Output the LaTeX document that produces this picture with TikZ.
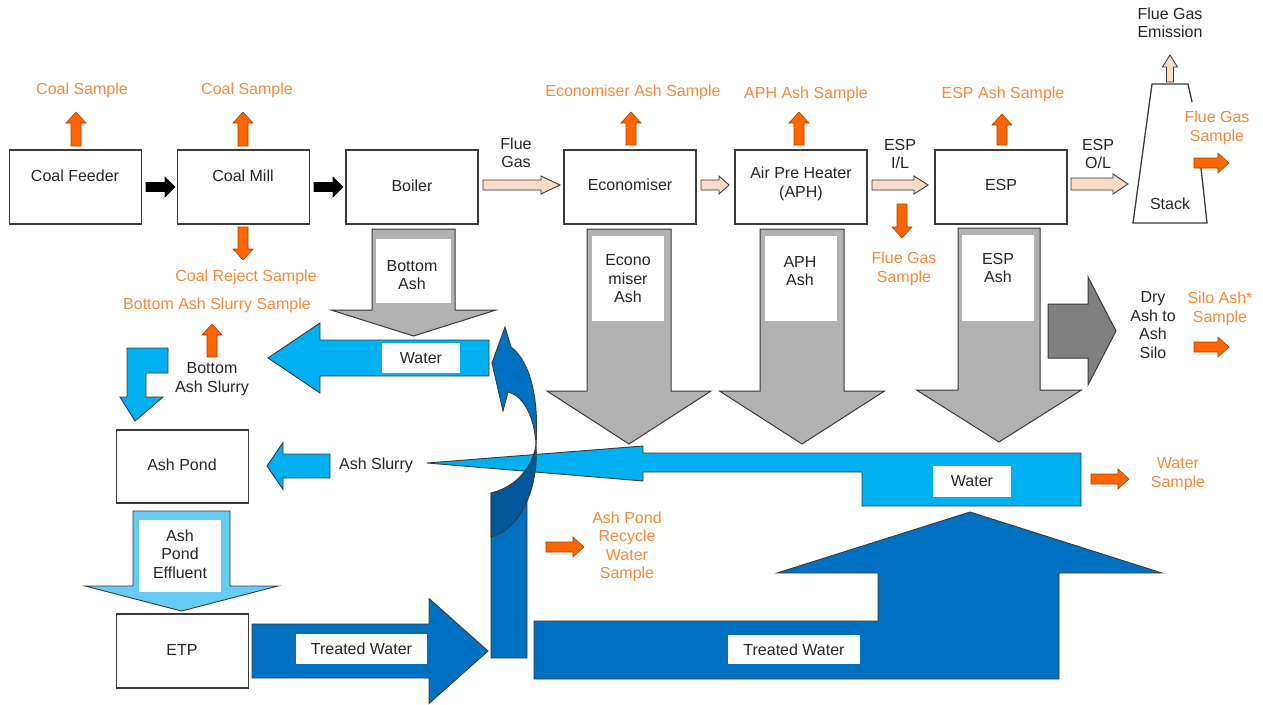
\documentclass[tikz,border=0pt]{standalone}
\usepackage{fontspec}
\setmainfont{Liberation Sans}
\definecolor{orangeF}{HTML}{FF6600}
\definecolor{orangeE}{HTML}{A84300}
\definecolor{orangeT}{HTML}{F7893B}
\definecolor{beige}{HTML}{F9DBC6}
\definecolor{ashgray}{HTML}{B2B2B2}
\definecolor{drygray}{HTML}{808080}
\definecolor{lblue}{HTML}{00B0F0}
\definecolor{dblue}{HTML}{0070C0}
\definecolor{ddblue}{HTML}{00589A}
\definecolor{eblue}{HTML}{66CCF3}
\definecolor{txt}{HTML}{262626}
\definecolor{edge}{HTML}{3A3A3A}
\newcommand\diagfont{\fontsize{16}{18.5}\selectfont}
% block arrows: style, tail, tip, centre, shaft half, head half, head length
\newcommand\blockR[7]{\draw[#1] (#2,{#4-#5}) -- ({#3-#7},{#4-#5}) -- ({#3-#7},{#4-#6}) -- (#3,#4) -- ({#3-#7},{#4+#6}) -- ({#3-#7},{#4+#5}) -- (#2,{#4+#5}) -- cycle;}
\newcommand\blockL[7]{\draw[#1] (#2,{#4-#5}) -- ({#3+#7},{#4-#5}) -- ({#3+#7},{#4-#6}) -- (#3,#4) -- ({#3+#7},{#4+#6}) -- ({#3+#7},{#4+#5}) -- (#2,{#4+#5}) -- cycle;}
\newcommand\blockU[7]{\draw[#1] ({#4-#5},#2) -- ({#4-#5},{#3+#7}) -- ({#4-#6},{#3+#7}) -- (#4,#3) -- ({#4+#6},{#3+#7}) -- ({#4+#5},{#3+#7}) -- ({#4+#5},#2) -- cycle;}
\newcommand\blockD[7]{\draw[#1] ({#4-#5},#2) -- ({#4-#5},{#3-#7}) -- ({#4-#6},{#3-#7}) -- (#4,#3) -- ({#4+#6},{#3-#7}) -- ({#4+#5},{#3-#7}) -- ({#4+#5},#2) -- cycle;}
\begin{document}
\begin{tikzpicture}[x=1pt,y=-1pt,
  procbox/.style={draw=edge, line width=1.3pt, fill=white, inner sep=0pt, minimum width=132pt, minimum height=74pt},
  lbl/.style={text=txt, font=\diagfont, align=center, inner sep=0pt},
  olbl/.style={text=orangeT, font=\diagfont, align=center, inner sep=0pt},
  wbox/.style={fill=white, draw=none, inner sep=0pt, text=txt, font=\diagfont},
  orarrow/.style={fill=orangeF, draw=orangeE, line width=0.6pt},
  blkarrow/.style={fill=black, draw=black, line width=0.6pt},
  fluearrow/.style={fill=beige, draw=edge, line width=0.9pt},
  asharrow/.style={fill=ashgray, draw=edge, line width=1pt},
  dryarrow/.style={fill=drygray, draw=edge, line width=1pt},
  lbarrow/.style={fill=lblue, draw=edge, line width=0.9pt},
  dbarrow/.style={fill=dblue, draw=edge, line width=0.9pt},
  ebarrow/.style={fill=eblue, draw=edge, line width=0.9pt},
  stackline/.style={draw=edge, line width=1.3pt}
]
\useasboundingbox (0,0) rectangle (1263,704);
\fill[white] (0,0) rectangle (1263,704);

% ---------- process boxes ----------
\node[procbox] (feeder) at (75.5,187) {};
\node[procbox] (mill) at (243.5,187) {};
\node[procbox] (boiler) at (412,187) {};
\node[procbox] (econ) at (630,187) {};
\node[procbox] (aph) at (801,187) {};
\node[procbox] (esp) at (1001,187) {};
\node[procbox, minimum height=73pt] (pond) at (182.5,466.5) {};
\node[procbox] (etp) at (182.5,651) {};
\node[lbl] (tfeeder) at (75,176) {Coal Feeder};
\node[lbl] (tmill) at (243,176) {Coal Mill};
\node[lbl] (tboiler) at (412,186) {Boiler};
\node[lbl] (tecon) at (630,185) {Economiser};
\node[lbl] (taph) at (801,184) {Air Pre Heater\\(APH)};
\node[lbl] (tesp) at (1001,185) {ESP};
\node[lbl] (tpond) at (182,465) {Ash Pond};
\node[lbl] (tetp) at (182,650) {ETP};

% ---------- stack ----------
\draw[stackline] (1192,102) -- (1188,84) -- (1152,84) -- (1133,223) -- (1207,223) -- (1201,168);
\node[lbl] (tstack) at (1170,204) {Stack};

% ---------- coal arrows ----------
\blockR{blkarrow}{146}{175}{187}{4.5}{10}{10}
\blockR{blkarrow}{314}{343}{187}{4.5}{10}{10}

% ---------- flue gas arrows ----------
\blockR{fluearrow}{483}{560}{185}{5}{9}{19}
\blockR{fluearrow}{701}{729}{185}{5}{9}{10}
\blockR{fluearrow}{872}{928}{185}{5}{9}{14}
\blockR{fluearrow}{1071}{1128}{184}{6}{10}{15}
\blockU{fluearrow}{82}{55}{1170}{3.5}{7.5}{12}
\node[lbl] (tflue) at (516,153) {Flue\\Gas};
\node[lbl] (tespil) at (900,154) {ESP\\I/L};
\node[lbl] (tespol) at (1098,154) {ESP\\O/L};
\node[lbl] (temis) at (1170,23) {Flue Gas\\Emission};

% ---------- sample arrows ----------
\blockU{orarrow}{146}{112}{76}{5}{10}{11}
\blockU{orarrow}{146}{112}{243}{5}{10}{11}
\blockU{orarrow}{145}{112}{631}{5}{10}{11}
\blockU{orarrow}{145}{112}{799}{5}{10}{11}
\blockU{orarrow}{145}{114}{1002}{5}{10}{11}
\blockU{orarrow}{357}{324}{212}{5}{10}{11}
\blockD{orarrow}{227}{260}{243}{5}{10}{11}
\blockD{orarrow}{204}{238}{902}{5}{10}{11}
\blockR{orarrow}{1194}{1229}{163}{5}{10}{11}
\blockR{orarrow}{1194}{1229}{347}{5}{10}{11}
\blockR{orarrow}{1091}{1129}{479}{5}{10}{11}
\blockR{orarrow}{546}{584}{547}{5}{10}{11}

\node[olbl] (s1) at (82,90) {Coal Sample};
\node[olbl] (s2) at (247,90) {Coal Sample};
\node[olbl] (s3) at (633,92) {Economiser Ash Sample};
\node[olbl] (s4) at (806,94) {APH Ash Sample};
\node[olbl] (s5) at (1003,94) {ESP Ash Sample};
\node[olbl] (s6) at (246,277) {Coal Reject Sample};
\node[olbl] (s7) at (217,305) {Bottom Ash Slurry Sample};
\node[olbl] (s8) at (904,269) {Flue Gas\\Sample};
\node[olbl] (s9) at (1217,128) {Flue Gas\\Sample};
\node[olbl] (s10) at (1220,309) {Silo Ash*\\Sample};
\node[olbl] (s11) at (1178,474) {Water\\Sample};
\node[olbl] (s12) at (627,547) {Ash Pond\\Recycle\\Water\\Sample};

% ---------- long ash slurry arrow ----------
\draw[lbarrow] (1081,453) -- (1081,506) -- (862,506) -- (862,472) -- (643,472) -- (643,481) -- (427,463) -- (643,446) -- (643,453) -- cycle;
\node[wbox, minimum width=78pt, minimum height=31pt] (water2) at (972,481.5) {Water};

% ---------- ash arrows ----------
\blockD{asharrow}{229}{336}{413.5}{41.5}{82.5}{26}
\fill[white] (376,239) rectangle (451,303);
\node[lbl] (tbash) at (412,275) {Bottom\\Ash};

\blockD{asharrow}{229}{444}{629}{42}{82}{53}
\fill[white] (592,236) rectangle (664,321);
\node[lbl] (teash) at (628,279) {Econo\\miser\\Ash};

\blockD{asharrow}{229}{444}{802}{42}{82.5}{53}
\fill[white] (765,236) rectangle (837,321);
\node[lbl] (taash) at (800,271) {APH\\Ash};

\blockD{asharrow}{228}{442}{999}{41}{82.5}{52}
\fill[white] (962,235) rectangle (1034,321);
\node[lbl] (tesash) at (998,268) {ESP\\Ash};

\blockR{dryarrow}{1048}{1116}{331}{27}{54}{28}
\node[lbl] (tdry) at (1153,325) {Dry\\Ash to\\Ash\\Silo};

% ---------- water arrow (bottom ash) ----------
\blockL{lbarrow}{489}{268}{358}{18}{35}{52}
\node[wbox, minimum width=78pt, minimum height=30pt] (water1) at (421,358) {Water};

% ---------- bottom ash slurry bent arrow ----------
\draw[lbarrow] (127,348) -- (168,348) -- (168,373) -- (146,373) -- (146,397) -- (163,397) -- (135,421) -- (120,397) -- (127,397) -- cycle;
\node[lbl] (tbas) at (212,379) {Bottom\\Ash Slurry};

% ---------- ash slurry to pond ----------
\blockL{lbarrow}{330}{267}{466}{12}{23.5}{16}
\node[lbl] (tslurry) at (376,465) {Ash Slurry};

% ---------- effluent ----------
\blockD{ebarrow}{511}{611}{181.5}{48.5}{96.5}{25}
\fill[white] (139,520) rectangle (221,592);
\node[lbl] (teff) at (180,554) {Ash\\Pond\\Effluent};

% ---------- treated water ----------
\blockR{dbarrow}{252}{488}{651}{27}{52.5}{59}
\node[wbox, minimum width=131pt, minimum height=30pt] (tw1) at (361.5,649) {Treated Water};

\draw[dbarrow] (534,621) -- (878,621) -- (878,573) -- (777,573) -- (970,512) -- (1162,573) -- (1059,573) -- (1059,679) -- (534,679) -- cycle;
\node[wbox, minimum width=132pt, minimum height=29pt] (tw2) at (794,649.5) {Treated Water};

% ---------- recycle curved arrow ----------
\draw[dbarrow] (491,658) -- (491,493) .. controls (505,490) and (520,480) .. (527,470) -- (527,658) -- cycle;
\draw[fill=ddblue, draw=edge, line width=0.9pt] (491,493) .. controls (512,489) and (532,470) .. (536,445) .. controls (539,488) and (520,530) .. (491,537) -- cycle;
\draw[dbarrow] (505,327) -- (492,363) -- (503,411) -- (508,392) .. controls (525,396) and (535,420) .. (536,445) .. controls (539,400) and (531,362) .. (511,347) -- cycle;

\end{tikzpicture}
\end{document}
